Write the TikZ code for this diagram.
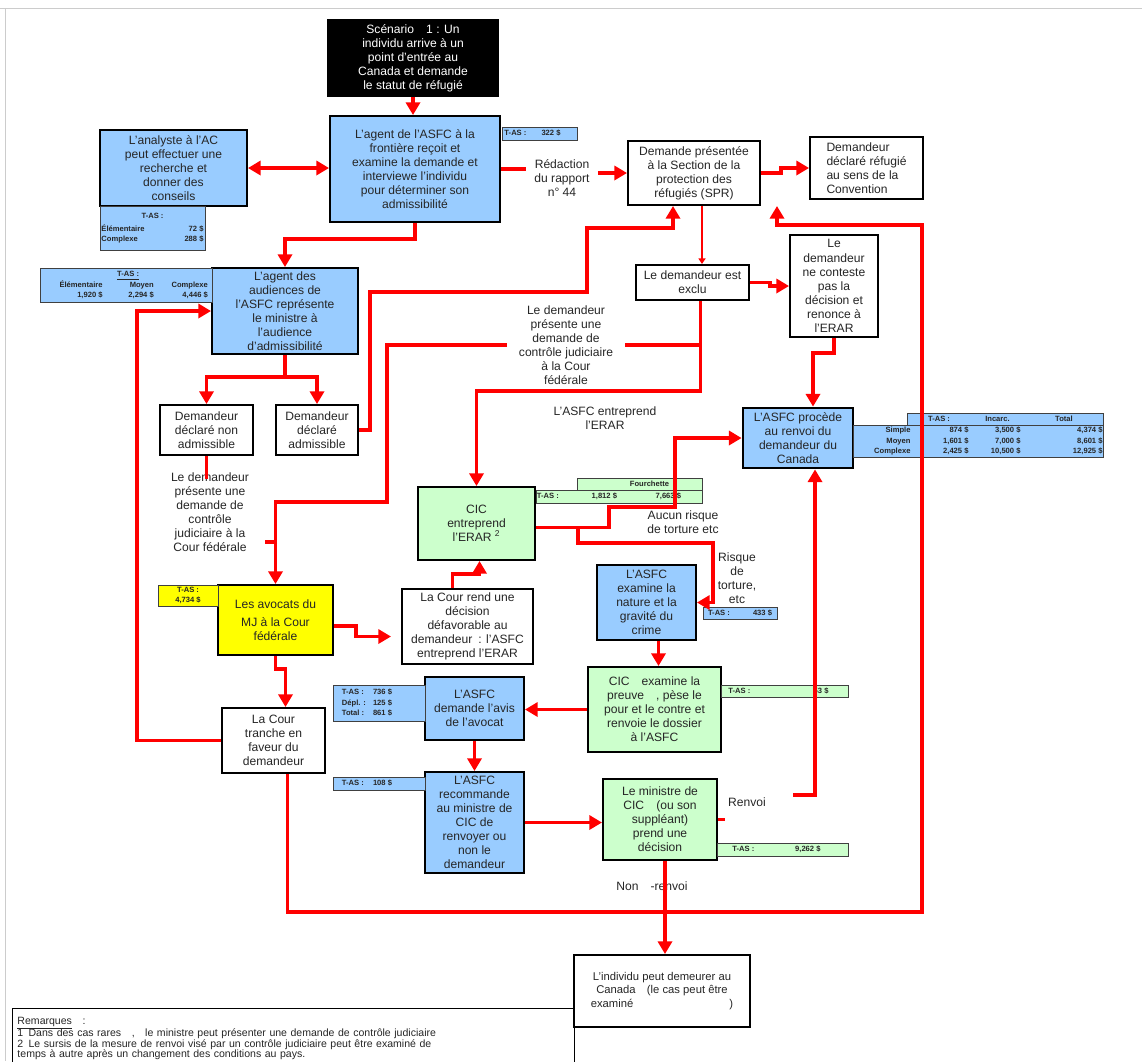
\documentclass[tikz,border=0pt]{standalone}
\usepackage{fontspec}
\setmainfont{Liberation Sans}
\usepackage{array}
\usetikzlibrary{arrows.meta}

\newcolumntype{L}[1]{>{\raggedright\arraybackslash}p{#1}}
\newcolumntype{R}[1]{>{\raggedleft\arraybackslash}p{#1}}
\newcolumntype{C}[1]{>{\centering\arraybackslash}p{#1}}

\definecolor{boxblue}{RGB}{153,204,255}
\definecolor{boxgreen}{RGB}{204,255,204}
\definecolor{boxyellow}{RGB}{255,255,0}

\newcommand{\boxfont}{\fontsize{8.6}{10}\selectfont}
\newcommand{\tabfont}{\fontsize{5.4}{7.2}\selectfont\bfseries}

\tikzset{wh/.style 2 args={minimum width=#1*0.025cm, minimum height=#2*0.025cm}}

\begin{document}
\begin{tikzpicture}[x=0.025cm, y=-0.025cm]
   \tikzstyle{every node}=[font=\boxfont, align=center, inner sep=0pt, text=black!85]
   \tikzstyle{white box}=[draw, line width=1.4pt, fill=white]
   \tikzstyle{blue box}=[white box, fill=boxblue]
   \tikzstyle{green box}=[white box, fill=boxgreen]
   \tikzstyle{yellow box}=[white box, fill=boxyellow]
   \tikzstyle{black box}=[white box, fill=black, text=white]
   \tikzstyle{cost box}=[draw=black!75, line width=0.7pt, fill=boxblue, font=\tabfont]
   \tikzstyle{red line}=[draw=red, line width=2.2pt]
   \tikzstyle{red arrow}=[red line, -{Triangle[length=9pt,width=10pt]}]
   \tikzstyle{red double}=[red line, {Triangle[length=9pt,width=10pt]}-{Triangle[length=9pt,width=10pt]}]
   \tikzstyle{red small}=[red line, line width=1.5pt, -{Triangle[length=4pt,width=5pt]}]

\useasboundingbox (0,0) rectangle (1142,1061);
\draw[black!20] (0,8) -- (1142,8) (5,8) -- (5,1061);

\node[black box, wh={170}{76}] (scen) at (413,58) {Scénario\quad 1 : Un\\individu arrive à un\\point d’entrée au\\Canada et demande\\le statut de réfugié};
\node[blue box, wh={170}{106}] (agent) at (415,169) {L’agent de l’ASFC à la\\frontière reçoit et\\examine la demande et\\interviewe l’individu\\pour déterminer son\\admissibilité};
\node[cost box, wh={75}{13}] (tasagent) at (539.5,133.5) {\begin{tabular}{@{}L{0.8cm}@{}R{0.6cm}@{\hspace{0.35cm}}} T-AS : & 322 \$ \end{tabular}};
\node[blue box, wh={147}{76}] (analyste) at (173.5,168) {L’analyste à l’AC\\peut effectuer une\\recherche et\\donner des\\conseils};
\node[cost box, wh={105}{44}] (tasanalyste) at (152.5,228) {\begin{tabular}{@{}L{1.6cm}@{}R{0.95cm}@{}} \multicolumn{2}{@{}c@{}}{T-AS :}\\[2pt] Élémentaire & 72 \$\\ Complexe & 288 \$ \end{tabular}};
\node[inner xsep=0.2cm] (rapport) at (562,178) {Rédaction\\du rapport\\n° 44};
\node[white box, wh={132}{64}] (spr) at (694,173) {Demande présentée\\à la Section de la\\protection des\\réfugiés (SPR)};
\node[white box, wh={113}{62}, align=left] (conv) at (866.5,168) {Demandeur\\déclaré réfugié\\au sens de la\\Convention};

\node[blue box, wh={146}{86}] (audience) at (285,311) {L’agent des\\audiences de\\l’ASFC représente\\le ministre à\\l’audience\\d’admissibilité};
\node[cost box, wh={172}{34}] (tasaudience) at (126,285) {\begin{tabular}{@{}R{1.46cm}@{}R{1.28cm}@{}R{1.35cm}@{}} & \multicolumn{1}{@{}c@{}}{\underline{T-AS :}} & \\ Élémentaire & Moyen & Complexe\\ 1,920 \$ & 2,294 \$ & 4,446 \$ \end{tabular}};
\node[white box, wh={93}{50}] (nonadm) at (206.5,430) {Demandeur\\déclaré non\\admissible};
\node[white box, wh={82}{50}] (adm) at (317,430) {Demandeur\\déclaré\\admissible};
\node[white box, wh={113}{35}] (exclu) at (692.5,282.5) {Le demandeur est\\exclu};
\node[white box, wh={88}{102}] (renonce) at (834,286) {Le\\demandeur\\ne conteste\\pas la\\décision et\\renonce à\\l’ERAR};
\node[inner xsep=0.3cm] (jrtext) at (566,345) {Le demandeur\\présente une\\demande de\\contrôle judiciaire\\à la Cour\\fédérale};
\node (erartext) at (605,418) {L’ASFC entreprend\\l’ERAR};
\node (jltext) at (210,512) {Le demandeur\\présente une\\demande de\\contrôle\\judiciaire à la\\Cour fédérale};

\node[blue box, line width=2pt, wh={110}{60}] (renvoi) at (798,438) {L’ASFC procède\\au renvoi du\\demandeur du\\Canada};
\node[cost box, wh={195}{12}] (tasrenvoih) at (1005.5,419) {\begin{tabular}{@{}C{1.55cm}@{}C{1.375cm}@{}C{1.95cm}@{}} T-AS : & Incarc. & Total \end{tabular}};
\node[cost box, wh={250}{32}] (tasrenvoi) at (978,441) {\begin{tabular}{@{}R{1.425cm}@{}R{1.45cm}@{}R{1.3cm}@{}R{2.05cm}@{}} Simple & 874 \$ & 3,500 \$ & 4,374 \$\\ Moyen & 1,601 \$ & 7,000 \$ & 8,601 \$\\ Complexe & 2,425 \$ & 10,500 \$ & 12,925 \$ \end{tabular}};

\node[green box, wh={117}{73}] (cicerar) at (476.5,523.5) {CIC\\entreprend\\l’ERAR \textsuperscript{2}};
\node[cost box, fill=boxgreen, wh={125}{12}] (taserarh) at (639.5,484) {\hspace*{0.5cm}Fourchette};
\node[cost box, fill=boxgreen, wh={166}{13}] (taserar) at (619,496.5) {\begin{tabular}{@{}L{1.2cm}@{}R{0.8cm}@{}R{1.6cm}@{\hspace{0.5cm}}} T-AS : & 1,812 \$ & 7,663 \$ \end{tabular}};
\node[white box, wh={131}{75}] (courrend) at (467.5,626.5) {La Cour rend une\\décision\\défavorable au\\demandeur\enspace: l’ASFC\\entreprend l’ERAR};
\node[yellow box, wh={115}{70}] (avocats) at (275.5,620) {Les avocats du\\[3pt]MJ à la Cour\\fédérale};
\node[cost box, fill=boxyellow, wh={60}{21}] (tasavocats) at (188,595.5) {T-AS :\\4,734 \$};
\node[white box, wh={103}{65}] (tranche) at (273.5,740.5) {La Cour\\tranche en\\faveur du\\demandeur};

\node[blue box, wh={99}{75}] (examen) at (646.5,602.5) {L’ASFC\\examine la\\nature et la\\gravité du\\crime};
\node[cost box, wh={74}{12}] (tasexamen) at (740,613) {\begin{tabular}{@{}L{0.9cm}@{}R{0.7cm}@{}} T-AS : & 433 \$ \end{tabular}};
\node (aucun) at (683,522) {Aucun risque\\de torture etc};
\node (risque) at (737,578) {Risque\\de\\torture,\\etc};
\node[green box, wh={133}{85}] (preuve) at (654.5,709.5) {CIC\quad examine la\\preuve\quad , pèse le\\pour et le contre et\\renvoie le dossier\\à l’ASFC};
\node[cost box, fill=boxgreen, wh={127}{12}] (taspreuve) at (784.5,691) {\begin{tabular}{@{}L{1.6cm}@{}R{0.9cm}@{\hspace{0.3cm}}} T-AS : & 53 \$ \end{tabular}};
\node[blue box, wh={99}{63}] (avis) at (474.5,708.5) {L’ASFC\\demande l’avis\\de l’avocat};
\node[cost box, wh={92}{36}] (tasavis) at (379,703) {\begin{tabular}{@{}L{0.75cm}@{}R{0.5cm}@{\hspace{0.6cm}}} T-AS : & 736 \$\\ Dépl. : & 125 \$\\ Total : & 861 \$ \end{tabular}};
\node[blue box, wh={99}{101}] (recommande) at (474.5,822.5) {L’ASFC\\recommande\\au ministre de\\CIC de\\renvoyer ou\\non le\\demandeur};
\node[cost box, wh={92}{13}] (tasrecommande) at (379,783.5) {\begin{tabular}{@{}L{0.75cm}@{}R{0.5cm}@{\hspace{0.6cm}}} T-AS : & 108 \$ \end{tabular}};
\node[green box, wh={114}{81}] (ministre) at (660,819.5) {Le ministre de\\CIC\quad (ou son\\suppléant)\\prend une\\décision};
\node[cost box, fill=boxgreen, wh={131}{13}] (tasministre) at (782.5,849.5) {\begin{tabular}{@{}L{1.3cm}@{}R{0.9cm}@{\hspace{0.3cm}}} T-AS : & 9,262 \$ \end{tabular}};
\node (renvoitext) at (747,802) {Renvoi};
\node (nonrenvoi) at (652,886) {Non\quad -renvoi};
\node[white box, wh={176}{72}, font=\fontsize{8}{9.5}\selectfont] (individu) at (662,991) {L’individu peut demeurer au\\Canada\quad (le cas peut être\\examiné\hspace{2.4cm})};
\node[draw, line width=0.8pt, wh={562}{60}, anchor=north west, align=left, text width=13.8cm, inner xsep=0.075cm, inner ysep=0.05cm, font=\fontsize{7.5}{7.6}\selectfont] (remarques) at (12,1008) {\underline{Remarques}\quad :\\[-1.5pt]1\enspace Dans des cas rares\quad ,\quad le ministre peut présenter une demande de contrôle judiciaire\\2\enspace Le sursis de la mesure de renvoi visé par un contrôle judiciaire peut être examiné de\\temps à autre après un changement des conditions au pays.};

\draw[red arrow] (scen.south) -- (scen.south |- agent.north);
\draw[red double] (analyste.east) -- (analyste.east -| agent.west);
\draw[red line] (agent.east) -- (agent.east -| rapport.west);
\draw[red arrow] (spr.west -| rapport.east) -- (spr.west);
\draw[red arrow] (spr.east) -- ++(20,0) |- (conv.west);
\draw[red arrow] (agent.south) -- ++(0,16) -| (audience.north);
\draw[red arrow] (audience.south) -- ++(0,22) -| (nonadm.north);
\draw[red arrow] (audience.south) -- ++(0,22) -| (adm.north);
\draw[red arrow] (adm.east) -| (370,292) -| (587,228) -| ([xshift=-0.525cm]spr.south);
\draw[red small] ([xshift=0.2cm]spr.south) -- ([xshift=0.2cm]spr.south |- exclu.north);
\draw[red arrow] (exclu.east) -- ++(20,0) |- (renonce.west);
\coordinate (jr) at (701,345);
\draw[red arrow] ([xshift=0.2cm]exclu.south) -- ++(0,90) -| (cicerar.north);
\draw[red line] (jr) -- (jr -| jrtext.east);
\draw[red arrow] (jr -| jrtext.west) -| (387,502) -| (avocats.north);
\draw[red line] (nonadm.south) -- ++(0,23);
\coordinate (jl) at (277,542);
\draw[red line] (jl) -- ++(-12,0);
\draw[red arrow] (renonce.south) -- ++(0,15) -| ([xshift=0.375cm]renvoi.north);
\draw[red arrow] ([yshift=-0.1cm]cicerar.east) -- ++(73,0) |- (675,507) |- (renvoi.west);
\draw[red arrow] ([yshift=-0.1cm]cicerar.east) -- ++(42,0) |- (713,543) |- (examen.east);
\draw[red arrow] ([xshift=-0.375cm]courrend.north) -- ++(0,-14) -| ([xshift=0.075cm]cicerar.south);
\draw[red arrow, shorten >=0.25cm] ([yshift=-0.15cm]avocats.east) -- ++(22,0) |- ([yshift=-0.25cm]courrend.west);
\draw[red arrow] (avocats.south) -- ++(0,13) -| ([xshift=0.3cm]tranche.north);
\draw[red arrow] (tranche.west) -- ++(-84,0) |- (audience.west);
\draw[red arrow] ([xshift=0.35cm]tranche.south) |- (922,912) -- (922,225) -| ([xshift=0.4cm]spr.south east);
\draw[red arrow] ([xshift=0.3cm]examen.south) -- ([xshift=0.3cm]examen.south |- preuve.north);
\draw[red arrow] (preuve.west) -- (preuve.west -| avis.east);
\draw[red arrow] (avis.south) -- (recommande.north);
\draw[red arrow] (recommande.east) -- (recommande.east -| ministre.west);
\draw[red line] (ministre.east) -- ++(7,0);
\coordinate (rv) at (793,795);
\draw[red arrow] (rv) -| ([xshift=0.425cm]renvoi.south);
\draw[red arrow] ([xshift=0.125cm]ministre.south) -- ([xshift=0.125cm]ministre.south |- individu.north);

\end{tikzpicture}
\end{document}
